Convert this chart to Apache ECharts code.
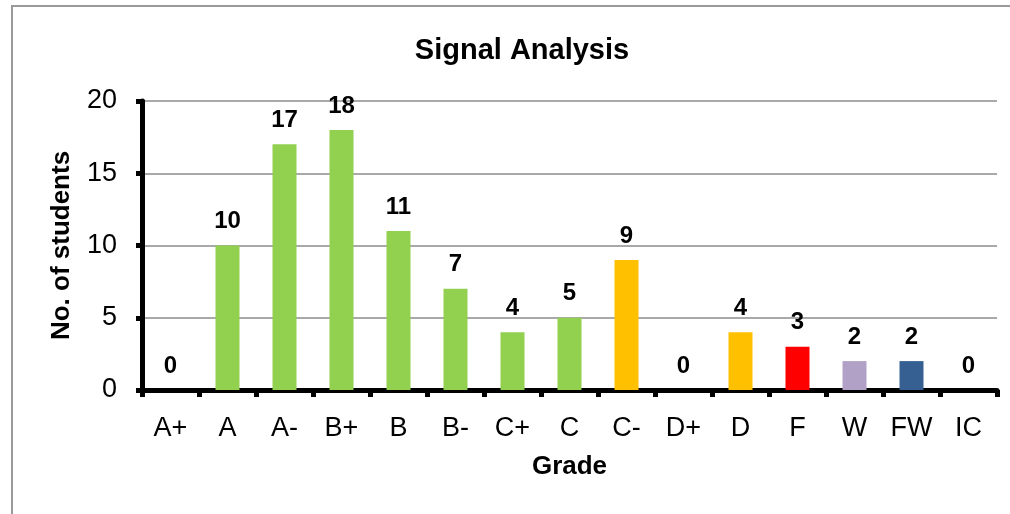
<!DOCTYPE html>
<html>
<head>
<meta charset="utf-8">
<script src="https://cdn.jsdelivr.net/npm/echarts@6/dist/echarts.min.js"></script>
<style>
  html, body { margin: 0; padding: 0; background: #fff; }
  #chart { width: 1010px; height: 514px; }
  .frame { position: absolute; left: 11px; top: 5px; width: 1010px; height: 520px; border: 2px solid #9a9a9a; box-sizing: border-box; pointer-events: none; }
</style>
</head>
<body>
<div id="chart"></div>
<div class="frame"></div>
<script>
// grades and student counts
const grades = ["A+", "A", "A-", "B+", "B", "B-", "C+", "C", "C-", "D+", "D", "F", "W", "FW", "IC"];
const students = [0, 10, 17, 18, 11, 7, 4, 5, 9, 0, 4, 3, 2, 2, 0];
const yTicks = [0, 5, 10, 15, 20];

// bar colour per grade
const barColors = ["#92D050", "#92D050", "#92D050", "#92D050", "#92D050", "#92D050", "#92D050", "#92D050",
  "#FFC000", "#FFC000", "#FFC000", "#FF0000", "#B2A1C7", "#366092", "#366092"];

let chart = echarts.init(document.getElementById("chart"));
let font = "Liberation Sans, Arial, sans-serif";

let option = {
  animation: false,
  title: {
    text: "Signal Analysis",
    left: 517,
    top: 31,
    textAlign: "center",
    textStyle: { fontFamily: font, fontSize: 29, fontWeight: "bold", color: "#000" },
  },
  grid: { left: 142, right: 13, top: 101, bottom: 124 },
  xAxis: {
    type: "category",
    data: grades,
    name: "Grade",
    nameLocation: "middle",
    nameGap: 64,
    nameTextStyle: { fontFamily: font, fontSize: 26, fontWeight: "bold", color: "#000" },
    axisLine: { lineStyle: { color: "#000", width: 5 } },
    axisTick: { show: true, inside: false, length: 7, lineStyle: { color: "#000", width: 5 } },
    axisLabel: { fontFamily: font, fontSize: 27, color: "#000", margin: 25 },
  },
  yAxis: {
    type: "value",
    min: yTicks[0],
    max: yTicks[yTicks.length - 1],
    interval: 5,
    name: "No. of students",
    nameLocation: "middle",
    nameGap: 67,
    nameTextStyle: { fontFamily: font, fontSize: 26, fontWeight: "bold", color: "#000" },
    axisLine: { show: true, lineStyle: { color: "#000", width: 5 } },
    axisTick: { show: true, length: 6, lineStyle: { color: "#000", width: 5 } },
    axisLabel: { fontFamily: font, fontSize: 27, color: "#000", margin: 25 },
    splitLine: { lineStyle: { color: "#8c8c8c", width: 1.5 } },
  },
  series: [
    {
      type: "bar",
      barWidth: 24,
      data: students.map(function (v, i) {
        return { value: v, itemStyle: { color: barColors[i] } };
      }),
      label: {
        show: true,
        position: "top",
        distance: 12,
        fontFamily: font,
        fontSize: 24,
        fontWeight: "bold",
        color: "#000",
      },
    },
  ],
};
chart.setOption(option);
</script>
</body>
</html>
